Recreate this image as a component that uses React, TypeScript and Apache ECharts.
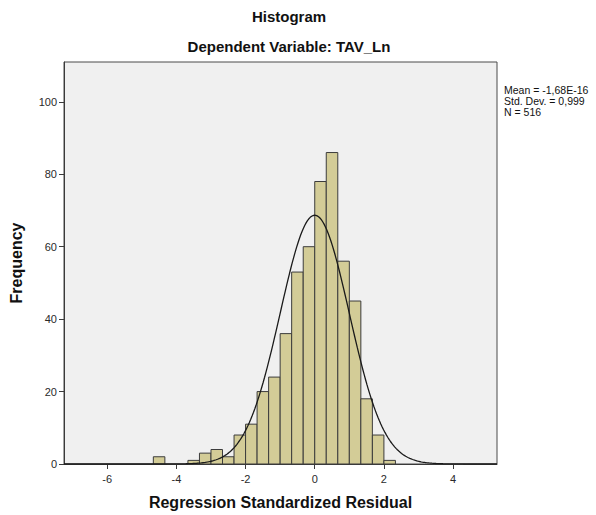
import React, { useEffect, useRef } from "react";
import * as echarts from "echarts";

// Histogram bins: lower edge of each bin (width 1/3) and its frequency
const binStarts = [
  -4.667, -4.333, -4.0, -3.667, -3.333, -3.0, -2.667, -2.333, -2.0, -1.667, -1.333,
  -1.0, -0.667, -0.333, 0.0, 0.333, 0.667, 1.0, 1.333, 1.667, 2.0,
];
const binWidth = 1 / 3;
const frequencies = [2, 0, 0, 1, 3, 4, 2, 8, 11, 20, 24, 36, 53, 60, 78, 86, 56, 45, 18, 8, 1];

const xTicks = [-6, -4, -2, 0, 2, 4];
const yTicks = [0, 20, 40, 60, 80, 100];

// Summary statistics of the residuals
const residualMean = -1.68e-16;
const residualStd = 0.999;
const sampleSize = 516;
const statsLines = ["Mean = -1,68E-16", "Std. Dev. = 0,999", "N = 516"];

const X_MIN = -7.25;
const X_MAX = 5.27;
const Y_MAX = 111;

const FONT = "'Liberation Sans', Arial, Helvetica, sans-serif";

// Normal density scaled to counts per bin
function normalCurve(): number[][] {
  const pts: number[][] = [];
  const scale = (sampleSize * binWidth) / (residualStd * Math.sqrt(2 * Math.PI));
  for (let x = X_MIN; x <= X_MAX + 1e-9; x += 0.04) {
    const z = (x - residualMean) / residualStd;
    pts.push([x, scale * Math.exp(-0.5 * z * z)]);
  }
  return pts;
}

export default function App() {
  const ref = useRef<HTMLDivElement>(null);

  useEffect(() => {
    if (!ref.current) return;
    const chart = echarts.init(ref.current, undefined, { renderer: "svg" });

    const barData = binStarts.map((s, i) => [s, s + binWidth, frequencies[i]]);

    chart.setOption({
      animation: false,
      backgroundColor: "#ffffff",
      textStyle: { fontFamily: FONT },
      grid: {
        left: 64,
        right: 99,
        top: 62,
        bottom: 50,
        show: true,
        backgroundColor: "#f0f0f0",
        borderColor: "#4a4a4a",
        borderWidth: 1,
      },
      xAxis: {
        type: "value",
        min: X_MIN,
        max: X_MAX,
        name: "Regression Standardized Residual",
        nameLocation: "middle",
        nameGap: 30,
        nameTextStyle: { fontFamily: FONT, fontWeight: "bold", fontSize: 16, color: "#111" },
        axisLine: { show: true, onZero: false, lineStyle: { color: "#3a3a3a", width: 1 } },
        axisTick: { show: true, customValues: xTicks, length: 5, lineStyle: { color: "#3a3a3a" } },
        axisLabel: { customValues: xTicks, fontSize: 11, color: "#2a2a2a", margin: 9, fontFamily: FONT },
        splitLine: { show: false },
      },
      yAxis: {
        type: "value",
        min: 0,
        max: Y_MAX,
        name: "Frequency",
        nameLocation: "middle",
        nameGap: 40,
        nameRotate: 90,
        nameTextStyle: { fontFamily: FONT, fontWeight: "bold", fontSize: 16, color: "#111" },
        axisLine: { show: true, onZero: false, lineStyle: { color: "#3a3a3a", width: 1 } },
        axisTick: { show: true, customValues: yTicks, length: 5, lineStyle: { color: "#3a3a3a" } },
        axisLabel: { customValues: yTicks, fontSize: 11, color: "#2a2a2a", margin: 7, fontFamily: FONT },
        splitLine: { show: false },
      },
      graphic: [
        {
          type: "text",
          x: 289,
          y: 16,
          style: {
            text: "Histogram",
            fill: "#111",
            font: `bold 15px ${FONT}`,
            textAlign: "center",
            textVerticalAlign: "middle",
          },
        },
        {
          type: "text",
          x: 289,
          y: 46,
          style: {
            text: "Dependent Variable: TAV_Ln",
            fill: "#111",
            font: `bold 15px ${FONT}`,
            textAlign: "center",
            textVerticalAlign: "middle",
          },
        },
        {
          type: "text",
          x: 504,
          y: 84,
          style: {
            text: statsLines.join("\n"),
            fill: "#111",
            font: `10.5px ${FONT}`,
            lineHeight: 11,
            textAlign: "left",
            textVerticalAlign: "top",
          },
        },
      ],
      series: [
        {
          type: "custom",
          data: barData,
          encode: { x: [0, 1], y: 2 },
          clip: true,
          renderItem: (params: any, api: any) => {
            const start = api.value(0);
            const end = api.value(1);
            const f = api.value(2);
            if (!f) return null;
            const p0 = api.coord([start, f]);
            const p1 = api.coord([end, 0]);
            return {
              type: "rect",
              shape: { x: p0[0], y: p0[1], width: p1[0] - p0[0], height: p1[1] - p0[1] },
              style: { fill: "#d3cc97", stroke: "#3c3c3c", lineWidth: 1 },
            };
          },
          z: 2,
        },
        {
          type: "line",
          data: normalCurve(),
          showSymbol: false,
          symbol: "none",
          smooth: false,
          lineStyle: { color: "#1a1a1a", width: 1.3 },
          z: 3,
        },
      ],
    });

    return () => chart.dispose();
  }, []);

  return (
    <div
      ref={ref}
      style={{ position: "fixed", left: 0, top: 0, width: 596, height: 515 }}
    />
  );
}
